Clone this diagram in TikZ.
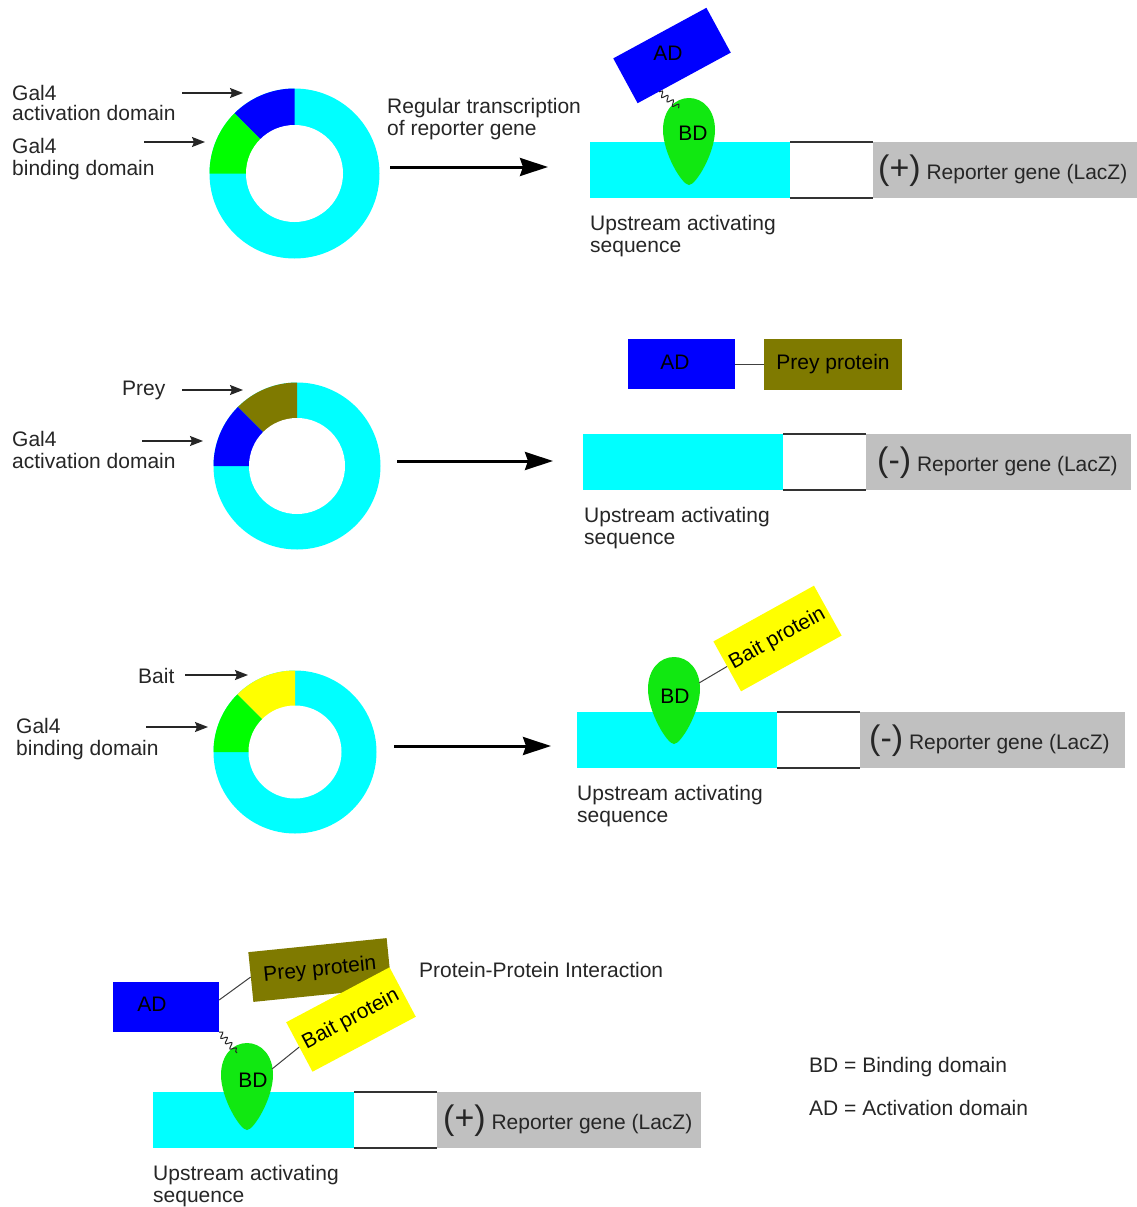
\documentclass[tikz,border=0pt]{standalone}
\usepackage{fontspec}
\setmainfont{Liberation Sans}
\usetikzlibrary{calc,decorations.pathmorphing,arrows.meta}
\definecolor{cyanc}{HTML}{00FFFF}
\definecolor{bluec}{HTML}{0000FF}
\definecolor{greenc}{HTML}{00FF00}
\definecolor{dropc}{HTML}{11E811}
\definecolor{olivec}{HTML}{7F7A00}
\definecolor{yellowc}{HTML}{FFFF00}
\definecolor{grayc}{HTML}{C0C0C0}
\definecolor{tcol}{HTML}{262626}
\newcommand\parfont{\fontsize{34}{34}\selectfont}
\newcommand\ringdiag[6]{%
\begin{scope}[shift={(#1,#2)}, yscale=-1]
\fill[cyanc] (0,0) circle (#3);
\fill[#5] (0,0) -- (90:#3) arc (90:135:#3) -- cycle;
\fill[#6] (0,0) -- (135:#3) arc (135:180:#3) -- cycle;
\fill[white] (0,0) circle (#4);
\end{scope}}
\tikzset{
  dtxt/.style={font=\fontsize{21}{22}\selectfont, text=tcol, inner sep=0pt, align=left, anchor=base west},
  dplain/.style={font=\fontsize{21}{22}\selectfont, text=black, inner sep=0pt},
  dbox/.style={font=\fontsize{21}{22}\selectfont, text=black, inner sep=0pt, draw=none},
  dbar/.style={inner sep=0pt, minimum height=56pt, draw=none},
  larrow/.style={line width=1.3pt, black!85, -{Stealth[length=13pt,width=10pt,inset=2pt]}},
  bigarrow/.style={line width=3pt, black, -{Stealth[length=28pt,width=18pt,inset=3pt]}},
  cline/.style={line width=1pt, black!75},
  gline/.style={line width=1.5pt, black!80},
  wavy/.style={line width=1pt, black!85, decorate, decoration={snake, amplitude=2.8pt, segment length=7pt}},
  drop/.pic={
    \fill[dropc] (0,87) .. controls (-7,87) and (-26,55) .. (-26,32)
      .. controls (-26,12) and (-14,0) .. (0,0)
      .. controls (14,0) and (26,12) .. (26,32)
      .. controls (26,55) and (7,87) .. (0,87) -- cycle;
    \coordinate (-tl) at (-10,10);
    \coordinate (-r) at (25,26);
  }
}
\begin{document}
\begin{tikzpicture}[x=1pt,y=-1pt]
\useasboundingbox (0,0) rectangle (1137,1207);
\fill[white] (0,0) rectangle (1137,1207);

% ---------------- Panel 1 ----------------
\ringdiag{294.5}{173.5}{85}{48.5}{bluec}{greenc}
\node[dtxt] (l1a) at (12,120) {Gal4\\[-2pt]activation domain};
\coordinate (a1s) at (182,93); \coordinate (a1e) at (243,93);
\draw[larrow] (a1s) -- (a1e);
\node[dtxt] (l1b) at (12,175) {Gal4\\binding domain};
\coordinate (b1s) at (144,142); \coordinate (b1e) at (205,142);
\draw[larrow] (b1s) -- (b1e);
\node[dtxt] (reg) at (387,135) {Regular transcription\\of reporter gene};
\coordinate (g1s) at (390,167); \coordinate (g1e) at (548,167);
\draw[bigarrow] (g1s) -- (g1e);
\node[dbar, fill=cyanc, minimum width=200pt] (uas1) at (690,170) {};
\node[dbar, fill=grayc, minimum width=264pt] (rep1) at (1005,170) {};
\draw[gline] (uas1.north east) -- (rep1.north west);
\draw[gline] (uas1.south east) -- (rep1.south west);
\node[dtxt] (rt1) at (878,179) {{\parfont(+)} Reporter gene (LacZ)};
\node[dtxt] (up1) at (590,252) {Upstream activating\\sequence};
\pic (bd1) at (689,98) {drop};
\node[dplain] (bdt1) at (693,133) {BD};
\node[dbox, fill=bluec, rotate=28.5, minimum width=106pt, minimum height=51pt] (ad1) at (672,55.5) {};
\node[dplain] (adt1) at (668,53) {AD};
\draw[wavy] ($(ad1.south west)!0.23!(ad1.south east)$) -- (bd1-tl);

% ---------------- Panel 2 ----------------
\ringdiag{297}{466}{83.5}{48}{olivec}{bluec}
\node[dtxt] (l2a) at (122,395) {Prey};
\coordinate (a2s) at (182,390); \coordinate (a2e) at (243,390);
\draw[larrow] (a2s) -- (a2e);
\node[dtxt] (l2b) at (12,468) {Gal4\\activation domain};
\coordinate (b2s) at (142,441); \coordinate (b2e) at (203,441);
\draw[larrow] (b2s) -- (b2e);
\coordinate (g2s) at (397,461); \coordinate (g2e) at (553,461);
\draw[bigarrow] (g2s) -- (g2e);
\node[dbox, fill=bluec, minimum width=107pt, minimum height=50pt] (ad2) at (681.5,364) {};
\node[dplain] (adt2) at (675,362) {AD};
\node[dbox, fill=olivec, minimum width=138pt, minimum height=51pt] (prey2) at (833,364) {Prey protein};
\draw[cline] (ad2.east) -- (prey2.west);
\node[dbar, fill=cyanc, minimum width=200pt] (uas2) at (683,462) {};
\node[dbar, fill=grayc, minimum width=265pt] (rep2) at (998.5,462) {};
\draw[gline] (uas2.north east) -- (rep2.north west);
\draw[gline] (uas2.south east) -- (rep2.south west);
\node[dtxt] (rt2) at (877,471) {{\parfont(-)} Reporter gene (LacZ)};
\node[dtxt] (up2) at (584,544) {Upstream activating\\sequence};

% ---------------- Panel 3 ----------------
\ringdiag{295}{752}{81.5}{46.5}{yellowc}{greenc}
\node[dtxt] (l3a) at (138,683) {Bait};
\coordinate (a3s) at (185,675); \coordinate (a3e) at (248,675);
\draw[larrow] (a3s) -- (a3e);
\node[dtxt] (l3b) at (16,755) {Gal4\\binding domain};
\coordinate (b3s) at (146,727); \coordinate (b3e) at (208,727);
\draw[larrow] (b3s) -- (b3e);
\coordinate (g3s) at (394,746); \coordinate (g3e) at (551,746);
\draw[bigarrow] (g3s) -- (g3e);
\node[dbar, fill=cyanc, minimum width=200pt] (uas3) at (677,740) {};
\node[dbar, fill=grayc, minimum width=265pt] (rep3) at (992.5,740) {};
\draw[gline] (uas3.north east) -- (rep3.north west);
\draw[gline] (uas3.south east) -- (rep3.south west);
\node[dtxt] (rt3) at (869,749) {{\parfont(-)} Reporter gene (LacZ)};
\node[dtxt] (up3) at (577,822) {Upstream activating\\sequence};
\pic (bd3) at (674,657) {drop};
\node[dplain] (bdt3) at (675,696) {BD};
\node[dbox, fill=yellowc, rotate=29, minimum width=115pt, minimum height=57pt] (bait3) at (777.5,638.5) {Bait protein};
\draw[cline] (bd3-r) -- (bait3.west);

% ---------------- Panel 4 ----------------
\node[dbar, fill=cyanc, minimum width=201pt] (uas4) at (253.5,1120) {};
\node[dbar, fill=grayc, minimum width=264pt] (rep4) at (569,1120) {};
\draw[gline] (uas4.north east) -- (rep4.north west);
\draw[gline] (uas4.south east) -- (rep4.south west);
\node[dtxt] (rt4) at (443,1129) {{\parfont(+)} Reporter gene (LacZ)};
\node[dtxt] (up4) at (153,1202) {Upstream activating\\sequence};
\pic (bd4) at (247,1043) {drop};
\node[dplain] (bdt4) at (253,1080) {BD};
\node[dbox, fill=bluec, minimum width=106pt, minimum height=50pt] (ad4) at (166,1007) {};
\node[dplain] (adt4) at (152,1004) {AD};
\node[dbox, fill=olivec, rotate=5.8, minimum width=139pt, minimum height=50pt] (prey4) at (320,970) {Prey protein};
\node[dbox, fill=yellowc, rotate=28, minimum width=117pt, minimum height=56pt] (bait4) at (351,1019.5) {Bait protein};
\draw[cline] ($(ad4.north east)!0.36!(ad4.south east)$) -- (prey4.west);
\draw[cline] (bd4-r) -- (bait4.west);
\draw[wavy] (ad4.south east) -- (bd4-tl);
\node[dtxt] (ppi) at (419,977) {Protein-Protein Interaction};
\node[dtxt] (leg1) at (809,1072) {BD = Binding domain};
\node[dtxt] (leg2) at (809,1115) {AD = Activation domain};
\end{tikzpicture}
\end{document}
